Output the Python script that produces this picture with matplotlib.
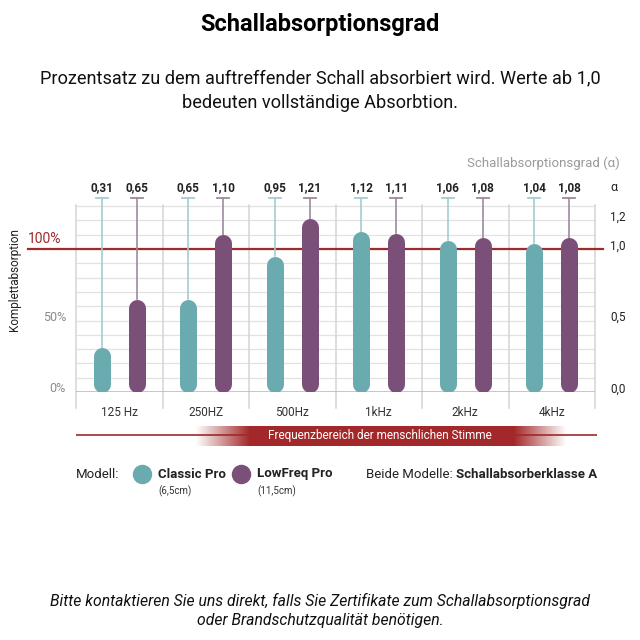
import numpy as np
import matplotlib.pyplot as plt
from matplotlib.lines import Line2D
from matplotlib.colors import to_rgb

plt.rcParams['font.family'] = ['Roboto', 'DejaVu Sans']

categories = ['125 Hz', '250HZ', '500Hz', '1kHz', '2kHz', '4kHz']
classic = [0.31, 0.65, 0.95, 1.12, 1.06, 1.04]
lowfreq = [0.65, 1.10, 1.21, 1.11, 1.08, 1.08]
classic_lbl = ['0,31', '0,65', '0,95', '1,12', '1,06', '1,04']
lowfreq_lbl = ['0,65', '1,10', '1,21', '1,11', '1,08', '1,08']
right_ticks = [0.0, 0.5, 1.0, 1.2]
right_lbl = ['0,0', '0,5', '1,0', '1,2']
left_ticks = [0.0, 0.5, 1.0]
left_lbl = ['0%', '50%', '100%']

teal = '#6aabb0'
purple = '#7a4f78'
teal_w = '#a5cdd0'
purple_w = '#9e8a9c'
red = '#9e2a2b'

W = H = 640
def fx(x): return x / W
def fy(y): return 1 - y / H

fig = plt.figure(figsize=(6.4, 6.4), dpi=100)

# main chart area: x 76..595 px, y 205..392 px
ax = fig.add_axes([fx(76), fy(392), fx(595) - fx(76), (392 - 205) / H])
ymax = (392 - 205) / 143
ax.set_xlim(-0.5, 5.5)
ax.set_ylim(0, ymax)
ax.axis('off')

for g in np.arange(0.1, 1.31, 0.1):
    ax.axhline(g, color='#e2e2e2', lw=0.9, zorder=0)
for b in np.arange(-0.5, 6, 1):
    ax.plot([b, b], [-16 / 143, ymax], color='#d4d4d4', lw=1.1, clip_on=False, zorder=0)
ax.axhline(0, color='#b5b5b5', lw=1.8, zorder=1)
ax.axhline(1.0, xmin=-48 / 519, xmax=1 + 8 / 519, color=red, lw=1.6, clip_on=False, zorder=2)

off = 17.5 / 86.5
bar_lw = 17 * 72 / 100
r = 8.5 / 143
top = 1.357
for i in range(len(categories)):
    for x, v, lbl, c, cw in [(i - off, classic[i], classic_lbl[i], teal, teal_w),
                             (i + off, lowfreq[i], lowfreq_lbl[i], purple, purple_w)]:
        ax.plot([x, x], [v, top], color=cw, lw=1.2, clip_on=False, zorder=3)
        ax.plot([x - 0.07, x + 0.07], [top, top], color=cw, lw=1.3, clip_on=False, zorder=3)
        ax.plot([x, x], [r, v - r], color=c, lw=bar_lw, solid_capstyle='round', zorder=4)
        ax.text(x, 1.43, lbl, ha='center', va='center', fontsize=8.5,
                fontweight='semibold', color='#222222')
    ax.text(i, -21 / 143, categories[i], ha='center', va='center', fontsize=8.5, color='#333333')

for t, l in zip(right_ticks, right_lbl):
    ax.text(5.5 + 15 / 86.5, t + 3 / 143, l, ha='left', va='center', fontsize=8.5,
            color='#222222', clip_on=False)
ax.text(5.5 + 15 / 86.5, 1.43, 'α', ha='left', va='center', fontsize=9, color='#222222')
ax.text(5.5 + 25 / 86.5, 229 / 143, 'Schallabsorptionsgrad (α)', ha='right', va='center',
        fontsize=9.5, color='#9a9a9a')

for t, l in zip(left_ticks, left_lbl):
    if l == '100%':
        ax.text(-0.5 - 48 / 86.5, t + 10 / 143, l, ha='left', va='center', fontsize=10, color=red)
    else:
        ax.text(-0.5 - 10 / 86.5, t + 3 / 143, l, ha='right', va='center', fontsize=9,
                color='#8a8a8a')
fig.text(fx(15), fy(280), 'Komplettabsorption', rotation=90, ha='center', va='center',
         fontsize=8.5, color='#222222')

# frequency band
bx = fig.add_axes([fx(76), fy(447), fx(597) - fx(76), 22 / H])
bx.set_xlim(-0.5, 5.5)
bx.set_ylim(0, 1)
bx.axis('off')
bx.axhline(0.55, color=red, lw=1.2, zorder=1)
xs = np.linspace(-0.5, 5.5, 600)
alpha = np.interp(xs, [0.88, 1.5, 4.55, 5.15], [0, 1, 1, 0])
img = np.zeros((1, len(xs), 4))
img[..., :3] = to_rgb('#a3282a')
img[..., 3] = alpha
bx.imshow(img, extent=[-0.5, 5.5, 0.05, 0.95], aspect='auto', zorder=2)
bx.text(3.0, 0.5, 'Frequenzbereich der menschlichen Stimme', ha='center', va='center',
        fontsize=8.5, color='white', zorder=3)

# legend
fig.text(fx(76), fy(474), 'Modell:', ha='left', va='center', fontsize=9.5, color='#222222')
for cx, c, name, size in [(142, teal, 'Classic Pro', '(6,5cm)'),
                          (241, purple, 'LowFreq Pro', '(11,5cm)')]:
    fig.add_artist(Line2D([fx(cx)], [fy(474)], marker='o', markersize=13, color=c,
                          transform=fig.transFigure))
    fig.text(fx(cx + 16), fy(474), name, ha='left', va='center', fontsize=9.5,
             fontweight='bold', color='#222222')
    fig.text(fx(cx + 16), fy(491), size, ha='left', va='center', fontsize=7, color='#333333')
fig.text(fx(597), fy(474), 'Schallabsorberklasse A', ha='right', va='center', fontsize=9.5,
         fontweight='bold', color='#222222')
fig.text(fx(453), fy(474), 'Beide Modelle:', ha='right', va='center', fontsize=9.5,
         color='#222222')

fig.text(0.5, fy(25), 'Schallabsorptionsgrad', ha='center', va='center', fontsize=17,
         fontweight='bold', color='black')
fig.text(0.5, fy(78), 'Prozentsatz zu dem auftreffender Schall absorbiert wird. Werte ab 1,0',
         ha='center', va='center', fontsize=13.1, color='#111111')
fig.text(0.5, fy(103), 'bedeuten vollständige Absorbtion.', ha='center', va='center',
         fontsize=13.1, color='#111111')
fig.text(0.5, fy(601), 'Bitte kontaktieren Sie uns direkt, falls Sie Zertifikate zum Schallabsorptionsgrad',
         ha='center', va='center', fontsize=11.3, style='italic', color='#111111')
fig.text(0.5, fy(621), 'oder Brandschutzqualität benötigen.', ha='center', va='center',
         fontsize=11.3, style='italic', color='#111111')

fig.savefig('out.png', dpi=100)
